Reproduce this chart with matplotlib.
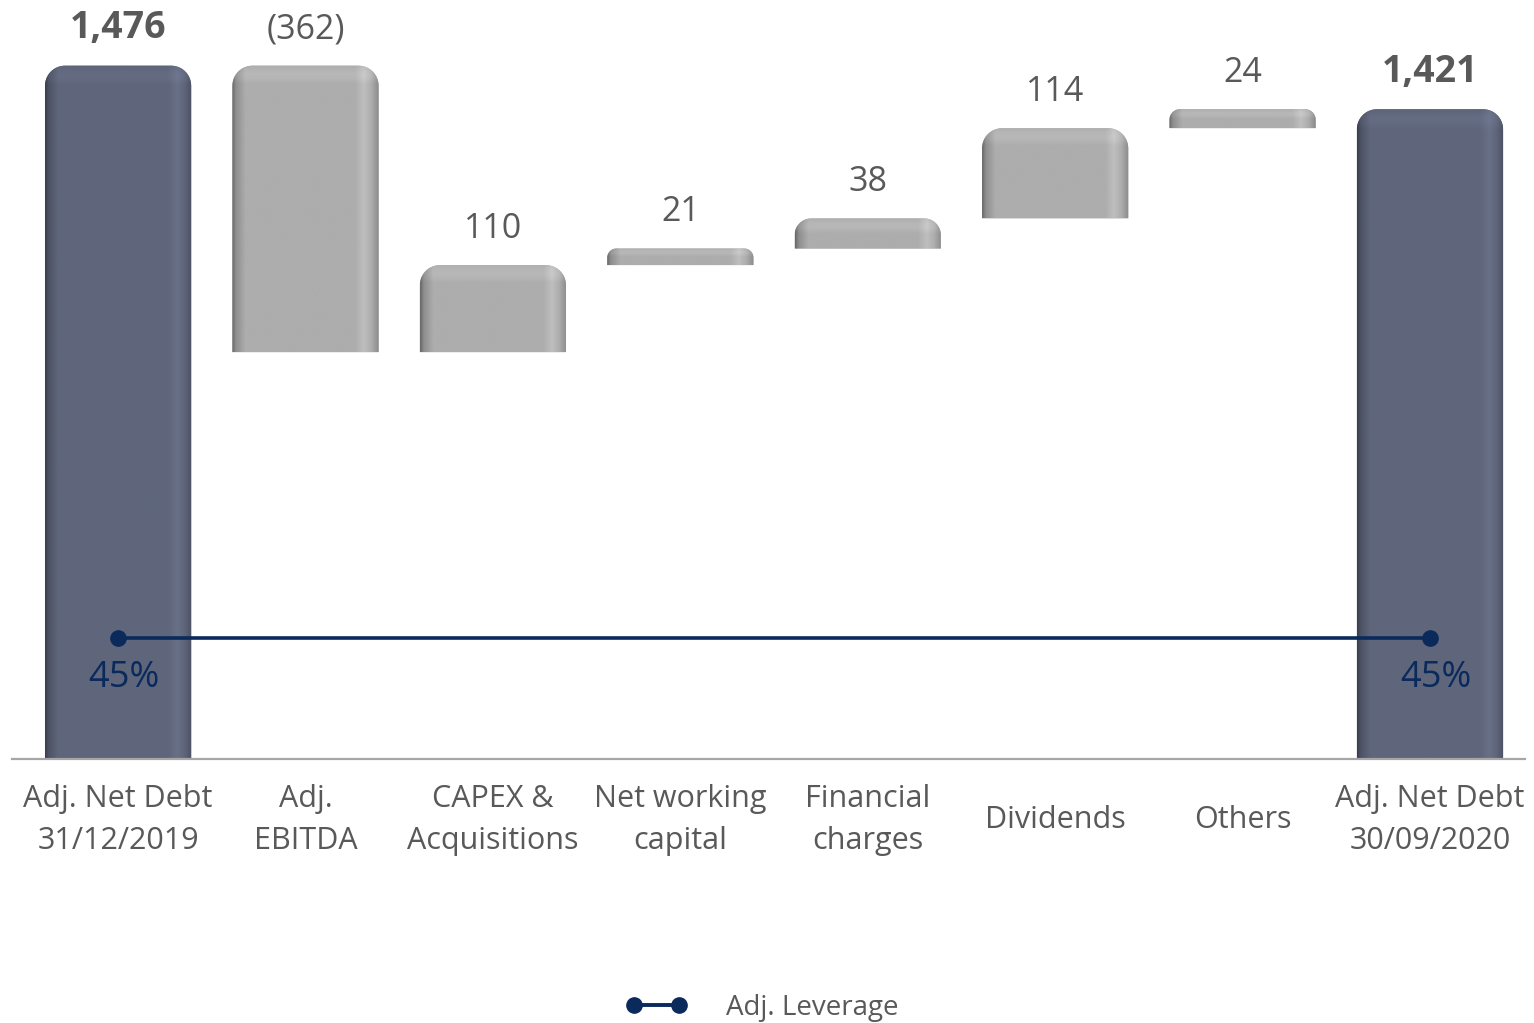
import numpy as np
import matplotlib
matplotlib.use("Agg")
import matplotlib.pyplot as plt
from matplotlib.patches import Polygon
from matplotlib.lines import Line2D
from matplotlib.colors import to_rgb

plt.rcParams["font.family"] = ["Open Sans", "DejaVu Sans"]

# data
categories = ["Adj. Net Debt\n31/12/2019", "Adj.\nEBITDA", "CAPEX &\nAcquisitions",
              "Net working\ncapital", "Financial\ncharges", "Dividends", "Others",
              "Adj. Net Debt\n30/09/2020"]
start_debt = 1476
movements = [-362, 110, 21, 38, 114, 24]
end_debt = 1421
value_labels = ["1,476", "(362)", "110", "21", "38", "114", "24", "1,421"]
leverage_x = [0, 7]
leverage = [0.45, 0.45]

y_base = 600          # broken axis, bars start here
total_color = "#5f667b"
step_color = "#adadad"
navy = "#0a2a5c"
text_gray = "#595959"

# waterfall bottoms / tops
bottoms, tops = [y_base], [start_debt]
running = start_debt
for m in movements:
    new = running + m
    bottoms.append(min(running, new))
    tops.append(max(running, new))
    running = new
bottoms.append(y_base)
tops.append(end_debt)
is_total = [True] + [False] * len(movements) + [True]

fig = plt.figure(figsize=(15.34, 10.23), dpi=100)
ax = fig.add_axes([12 / 1534, 1 - 759 / 1023, (1525 - 12) / 1534, 759 / 1023])
ax.set_xlim(-0.566, 7.507)
ax.set_ylim(y_base, 1559)

px_x = ax.transData.transform((1, 0))[0] - ax.transData.transform((0, 0))[0]
px_y = ax.transData.transform((0, 1))[1] - ax.transData.transform((0, 0))[1]


def rounded_bar(xc, bottom, top, width, base, r_px=20):
    x0, x1 = xc - width / 2, xc + width / 2
    h_px = (top - bottom) * px_y
    r = min(r_px, h_px * 0.55, width * px_x / 2)
    rx, ry = r / px_x, r / px_y
    t1 = np.linspace(np.pi, np.pi / 2, 14)
    t2 = np.linspace(np.pi / 2, 0, 14)
    left = np.column_stack([x0 + rx + rx * np.cos(t1), top - ry + ry * np.sin(t1)])
    right = np.column_stack([x1 - rx + rx * np.cos(t2), top - ry + ry * np.sin(t2)])
    verts = np.vstack([[x0, bottom], left, right, [x1, bottom]])
    patch = Polygon(verts, closed=True, facecolor=base, edgecolor="none", zorder=2)
    ax.add_patch(patch)

    # fake 3D shading: dark left edge, light band near the right edge
    tt = np.linspace(0, 1, 300)
    f = np.interp(tt, [0, 0.025, 0.09, 0.84, 0.9, 0.95, 1.0],
                  [0.6, 0.82, 1.0, 1.0, 1.1, 1.0, 0.8])
    img = np.clip(np.array(to_rgb(base))[None, None, :] * f[None, :, None], 0, 1)
    # soft highlight on the top rim
    rows = np.linspace(0, 1, 200)[:, None, None]
    rim_px = (1 - rows) * h_px
    top_f = np.where(rim_px < r * 0.9, 1.0 + 0.06 * np.sin(np.clip(rim_px / (r * 0.9), 0, 1) * np.pi), 1.0)
    img = np.clip(img * top_f, 0, 1)
    im = ax.imshow(img, extent=(x0, x1, bottom, top), origin="lower", aspect="auto",
                   interpolation="bilinear", zorder=2.1)
    im.set_clip_path(patch)


bar_width = 0.78
for i, (b, t) in enumerate(zip(bottoms, tops)):
    rounded_bar(i, b, t, bar_width, total_color if is_total[i] else step_color)
    if is_total[i]:
        ax.annotate(value_labels[i], (i, t), xytext=(0, 27), textcoords="offset points",
                    ha="center", va="center", fontsize=27, fontweight="bold", color=text_gray)
    else:
        ax.annotate(value_labels[i], (i, t), xytext=(0, 26), textcoords="offset points",
                    ha="center", va="center", fontsize=24.5, color=text_gray)

ax.set_xlim(-0.566, 7.507)
ax.set_ylim(y_base, 1559)

for s in ["top", "right", "left"]:
    ax.spines[s].set_visible(False)
ax.spines["bottom"].set_color("#a6a6a6")
ax.spines["bottom"].set_linewidth(1.6)
ax.set_yticks([])
ax.set_xticks(range(len(categories)))
ax.set_xticklabels(categories, fontsize=22, color=text_gray, linespacing=1.5)
ax.tick_params(axis="x", length=0, pad=44)
for lbl in ax.get_xticklabels():
    lbl.set_va("center")

# leverage line on a hidden secondary axis
ax2 = ax.twinx()
ax2.set_ylim(0, 2.82)
ax2.plot(leverage_x, leverage, color=navy, lw=2.6, marker="o", markersize=11, zorder=5)
for x, v in zip(leverage_x, leverage):
    ax2.annotate(f"{v:.0%}", (x, v), xytext=(4, -29), textcoords="offset points",
                 ha="center", va="center", fontsize=26, color=navy)
ax2.axis("off")

handle = Line2D([], [], color=navy, lw=2.8, marker="o", markersize=11)
fig.legend([handle], ["Adj. Leverage"], loc="center", bbox_to_anchor=(0.497, 0.015),
           frameon=False, numpoints=2, handlelength=2.2, handletextpad=1.4,
           fontsize=20, labelcolor=text_gray)

fig.savefig("out.png", dpi=100)
